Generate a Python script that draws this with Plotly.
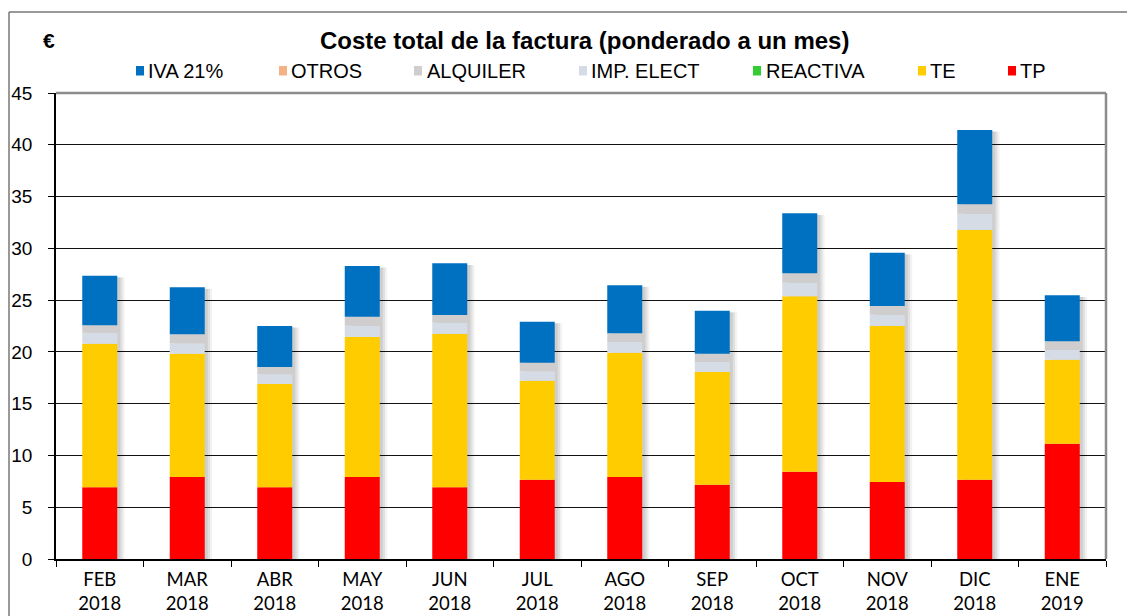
import plotly.graph_objects as go
import numpy as np

months = ["FEB", "MAR", "ABR", "MAY", "JUN", "JUL", "AGO", "SEP", "OCT", "NOV", "DIC", "ENE"]
years = ["2018"] * 11 + ["2019"]
categories = [f"{m}<br>{y}" for m, y in zip(months, years)]

tp = [6.92, 7.92, 6.92, 7.92, 6.92, 7.66, 7.92, 7.18, 8.43, 7.44, 7.66, 11.13]
te = [13.87, 11.90, 9.98, 13.52, 14.81, 9.56, 12.00, 10.88, 16.94, 15.06, 24.11, 8.12]
reactiva = [0] * 12
imp_elect = [1.06, 1.01, 0.93, 1.09, 1.09, 0.90, 1.03, 0.96, 1.31, 1.09, 1.58, 0.93]
alquiler = [0.72, 0.87, 0.71, 0.87, 0.74, 0.84, 0.84, 0.81, 0.91, 0.84, 0.90, 0.84]
otros = [0] * 12
iva = [4.79, 4.54, 3.96, 4.90, 4.99, 3.96, 4.64, 4.15, 5.79, 5.15, 7.18, 4.44]

series = [
    ("TP", tp, "#FF0000"),
    ("TE", te, "#FFCC00"),
    ("REACTIVA", reactiva, "#33CC33"),
    ("IMP. ELECT", imp_elect, "#D6DCE5"),
    ("ALQUILER", alquiler, "#CFCDCD"),
    ("OTROS", otros, "#F4B183"),
    ("IVA 21%", iva, "#0070C0"),
]

# page offset (body margin) and plot area, in screen pixels
OFF = 8
W, H = 1135, 616
SL, ST, SR, SB = 56, 93, 1106, 559          # plot area on screen
L, T = SL - OFF, ST - OFF
R, B = W - (SR - OFF), H - (SB - OFF)
PW, PH = SR - SL, SB - ST


def px(sx):
    return (sx - SL) / PW


def py(sy):
    return (SB - sy) / PH


BW = 0.40
fig = go.Figure()

totals = np.sum([np.array(s[1]) for s in series], axis=0)
# soft drop shadows
for off, alpha in [(0.085, 0.05), (0.06, 0.07), (0.035, 0.08)]:
    fig.add_trace(go.Bar(x=categories, y=totals - 0.15, base=0, width=BW, offset=-BW / 2 + off,
                         marker=dict(color=f"rgba(0,0,0,{alpha})", line=dict(width=0)),
                         showlegend=False, hoverinfo="skip"))

base = np.zeros(12)
for name, vals, col in series:
    v = np.array(vals, dtype=float)
    fig.add_trace(go.Bar(x=categories, y=v, base=base.copy(), name=name, width=BW, offset=-BW / 2,
                         marker=dict(color=col, line=dict(width=0)), showlegend=False))
    base = base + v

# custom legend (same order as reference)
legend_items = [("IVA 21%", "#0070C0", 136, 147), ("OTROS", "#F4B183", 279, 290),
                ("ALQUILER", "#CFCDCD", 414, 426), ("IMP. ELECT", "#D6DCE5", 579, 590),
                ("REACTIVA", "#33CC33", 753, 765), ("TE", "#FFCC00", 918, 929),
                ("TP", "#FF0000", 1008, 1019)]
shapes = []
annotations = []
for name, col, mx, tx in legend_items:
    shapes.append(dict(type="rect", xref="paper", yref="paper", x0=px(mx), x1=px(mx + 8),
                       y0=py(75.5), y1=py(66), fillcolor=col, line=dict(width=0)))
    annotations.append(dict(text=name, xref="paper", yref="paper", x=px(tx - 1), y=py(71),
                            xanchor="left", yanchor="middle", showarrow=False,
                            font=dict(family="Liberation Sans, Arial", size=20, color="#000")))

# outer chart frame
shapes.append(dict(type="line", xref="paper", yref="paper", x0=px(9), x1=px(1150), y0=py(12), y1=py(12),
                   line=dict(color="#777777", width=1.5)))
shapes.append(dict(type="line", xref="paper", yref="paper", x0=px(9), x1=px(9), y0=py(12), y1=py(650),
                   line=dict(color="#777777", width=1.5)))
# plot area border (top / right gray)
shapes.append(dict(type="line", xref="paper", yref="paper", x0=0, x1=1, y0=1, y1=1,
                   line=dict(color="#8c8c8c", width=2.5)))
shapes.append(dict(type="line", xref="paper", yref="paper", x0=1, x1=1, y0=0, y1=1,
                   line=dict(color="#8c8c8c", width=2.5)))

annotations.append(dict(text="<b>Coste total de la factura (ponderado a un mes)</b>", xref="paper", yref="paper",
                        x=px(584), y=py(40), xanchor="center", yanchor="middle", showarrow=False,
                        font=dict(family="Liberation Sans, Arial", size=24, color="#000")))
annotations.append(dict(text="<b>€</b>", xref="paper", yref="paper",
                        x=px(49), y=py(41), xanchor="center", yanchor="middle", showarrow=False,
                        font=dict(family="Liberation Sans, Arial", size=21, color="#000")))

fig.update_layout(
    width=W, height=H,
    margin=dict(l=L, r=R, t=T, b=B, pad=0),
    paper_bgcolor="white", plot_bgcolor="white",
    barmode="overlay",
    shapes=shapes, annotations=annotations,
    showlegend=False,
    xaxis=dict(categoryorder="array", categoryarray=categories, showline=True, linecolor="#000", linewidth=1.5,
               ticks="outside", tickson="boundaries", ticklen=6, tickcolor="#000", tickwidth=1,
               showgrid=False, range=[-0.5, 11.5], ticklabelstandoff=3, automargin=False,
               tickfont=dict(family="Lato, Open Sans", size=18.5, color="#000")),
    yaxis=dict(range=[0, 45], dtick=5, showline=True, linecolor="#000", linewidth=1.5,
               ticks="outside", ticklen=6, tickcolor="#000", tickwidth=1,
               showgrid=True, gridcolor="#111111", gridwidth=1.3, zeroline=False,
               ticklabelstandoff=12, automargin=False,
               tickfont=dict(family="Liberation Sans, Arial", size=19, color="#000")),
)

fig.write_html("out.html")
